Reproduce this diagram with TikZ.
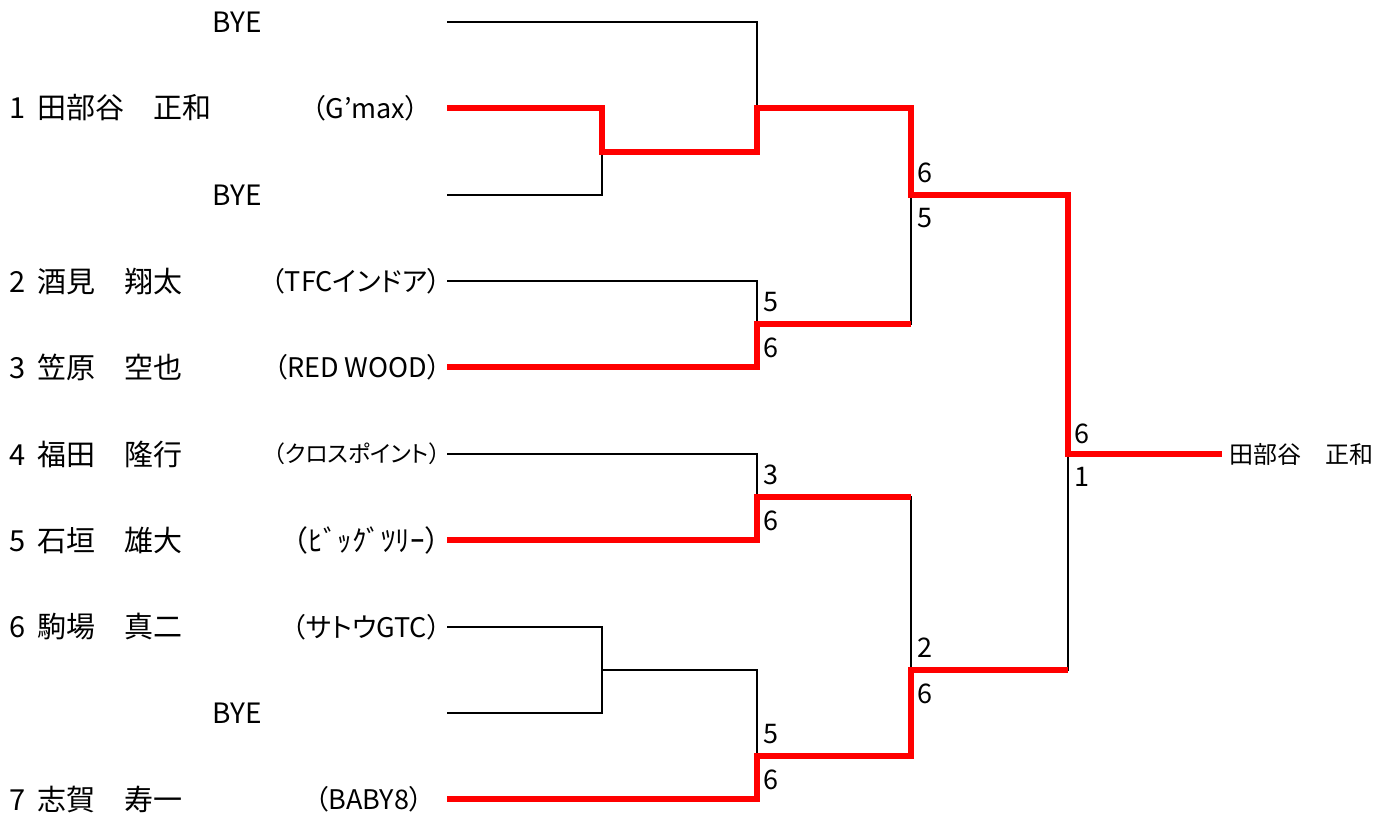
\documentclass[tikz,border=0pt]{standalone}
\usepackage{fontspec}
\newfontfamily\jpfont{Noto Sans CJK JP}
\newfontfamily\jppfont[RawFeature=+palt]{Noto Sans CJK JP}
\usetikzlibrary{positioning}

\tikzset{
  lose/.style={black, line width=1pt},
  win/.style={red, line width=3.4pt},
  player/.style={anchor=west, inner sep=0pt, font=\jpfont\fontsize{14.5}{16}\selectfont},
  team/.style={anchor=east, inner sep=0pt, font=\jppfont\fontsize{13.5}{15}\selectfont},
  bye/.style={inner sep=0pt, font=\jpfont\fontsize{14}{16}\selectfont},
  score/.style={inner sep=0pt, font=\jpfont\fontsize{13.5}{15}\selectfont},
}
\newcommand{\seed}[1]{#1\hspace{6pt}}

\begin{document}
\begin{tikzpicture}[x=0.5pt, y=-0.5pt]
\useasboundingbox (0,0) rectangle (1390,816);

% entries
\coordinate (s0) at (447,22);
\coordinate (s1) at (447,108);
\coordinate (s2) at (447,195);
\coordinate (s3) at (447,281);
\coordinate (s4) at (447,367);
\coordinate (s5) at (447,454);
\coordinate (s6) at (447,540);
\coordinate (s7) at (447,627);
\coordinate (s8) at (447,713);
\coordinate (s9) at (447,799);

% matches
\coordinate (m1) at (602,152);
\coordinate (m2) at (757,108);
\coordinate (m3) at (757,324);
\coordinate (m4) at (757,497);
\coordinate (m5) at (602,670);
\coordinate (m6) at (757,756);
\coordinate (sf1) at (911,195);
\coordinate (sf2) at (911,670);
\coordinate (fin) at (1068,454);
\coordinate (w) at (1222,454);

\node[bye] (n0) at (237,22) {BYE};
\node[player] (n1) at (9,108) {\seed{1}田部谷　正和};
\node[team] (t1) at (419,108) {（G’max）};
\node[bye] (n2) at (237,195) {BYE};
\node[player] (n3) at (9,281) {\seed{2}酒見　翔太};
\node[team] (t3) at (441,281) {（TFCインドア）};
\node[player] (n4) at (9,367) {\seed{3}笠原　空也};
\node[team] (t4) at (441,367) {（RED WOOD）};
\node[player] (n5) at (9,454) {\seed{4}福田　隆行};
\node[team, font=\jppfont\fontsize{11.5}{13}\selectfont] (t5) at (441,454) {（クロスポイント）};
\node[player] (n6) at (9,540) {\seed{5}石垣　雄大};
\node[team, font=\jpfont\fontsize{14.5}{16}\selectfont] (t6) at (454,540) {（ﾋﾞｯｸﾞﾂﾘｰ）};
\node[player] (n7) at (9,627) {\seed{6}駒場　真二};
\node[team] (t7) at (441,627) {（サトウGTC）};
\node[bye] (n8) at (237,713) {BYE};
\node[player] (n9) at (9,799) {\seed{7}志賀　寿一};
\node[team] (t9) at (423,799) {（BABY8）};
\node[player, font=\jpfont\fontsize{12}{14}\selectfont] (champ) at (1229,454) {田部谷　正和};

% losing lines
\draw[lose] (s0) -| (m2);
\draw[lose] (s2) -| (m1);
\draw[lose] (s3) -| (m3);
\draw[lose] (m3) -| (sf1);
\draw[lose] (s5) -| (m4);
\draw[lose] (m4) -| (sf2);
\draw[lose] (s7) -| (m5);
\draw[lose] (s8) -| (m5);
\draw[lose] (m5) -| (m6);
\draw[lose] (sf2) -| (fin);

% winning lines
\draw[win] (s1) -| (m1) -| (m2) -| (sf1) -| (fin) -- (w);
\draw[win] (s4) -| (m3) -- (m3 -| sf1);
\draw[win] (s6) -| (m4) -- (m4 -| sf2);
\draw[win] (s9) -| (m6) -| (sf2) -- (sf2 -| fin);

% scores
\node[score, above right=6pt and 3pt of m3] (a3) {5};
\node[score, below right=6.5pt and 3pt of m3] (b3) {6};
\node[score, above right=6pt and 3pt of m4] (a4) {3};
\node[score, below right=6.5pt and 3pt of m4] (b4) {6};
\node[score, above right=6pt and 3pt of m6] (a6) {5};
\node[score, below right=6.5pt and 3pt of m6] (b6) {6};
\node[score, above right=6pt and 3pt of sf1] (a7) {6};
\node[score, below right=6.5pt and 3pt of sf1] (b7) {5};
\node[score, above right=6pt and 3pt of sf2] (a8) {2};
\node[score, below right=6.5pt and 3pt of sf2] (b8) {6};
\node[score, above right=5pt and 3pt of fin] (a9) {6};
\node[score, below right=6.5pt and 3pt of fin] (b9) {1};
\end{tikzpicture}
\end{document}
